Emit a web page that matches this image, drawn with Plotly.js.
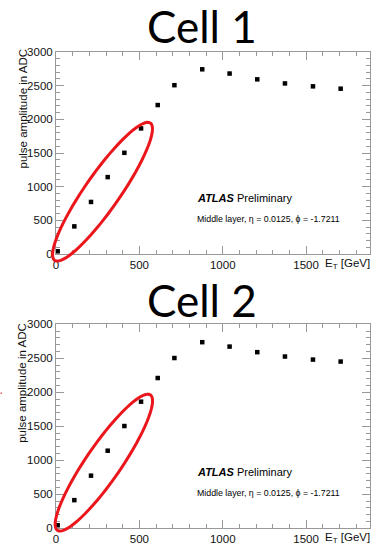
<!DOCTYPE html>
<html>
<head>
<meta charset="utf-8">
<script src="https://cdn.plot.ly/plotly-3.0.1.min.js"></script>
<style>html,body{margin:0;padding:0;background:#fff;}#chart{width:372px;height:556px;}</style>
</head>
<body>
<div id="chart"></div>
<script>
// ---- data ----
const panelTitles = ["Cell 1", "Cell 2"];
const cell1Et = [10, 110, 210, 310, 410, 510, 610, 710, 877, 1041, 1207, 1373, 1541, 1707];
const cell1Amp = [40, 410, 773, 1142, 1503, 1865, 2212, 2507, 2743, 2680, 2594, 2533, 2490, 2455];
const cell2Et = [10, 110, 210, 310, 410, 510, 610, 710, 877, 1041, 1207, 1373, 1541, 1707];
const cell2Amp = [45, 414, 774, 1141, 1504, 1862, 2210, 2504, 2737, 2672, 2590, 2526, 2481, 2452];
const xTickVals = [0, 500, 1000, 1500];
const yTickVals = [0, 500, 1000, 1500, 2000, 2500, 3000];
// ellipse highlighting the linear region: [x,y] of the two tips (data units)
const ellipse1Tips = [[-8, -95], [566, 1945]];
const ellipse2Tips = [[8, -30], [566, 1962]];

const W = 372, H = 556;
const xRange = [0, 1880], yRange = [0, 3000];
const xDom = [56 / W, 369.5 / W];
const yDom1 = [1 - 254 / H, 1 - 52 / H];
const yDom2 = [1 - 528.3 / H, 1 - 324.3 / H];

function toPaper(x, y, yDom) {
  const px = xDom[0] + (x - xRange[0]) / (xRange[1] - xRange[0]) * (xDom[1] - xDom[0]);
  const py = yDom[0] + (y - yRange[0]) / (yRange[1] - yRange[0]) * (yDom[1] - yDom[0]);
  return [px, py];
}
function ellipsePath(tips, yDom, halfMinorPx) {
  const a = toPaper(tips[0][0], tips[0][1], yDom), b = toPaper(tips[1][0], tips[1][1], yDom);
  const ax = a[0] * W, ay = a[1] * H, bx = b[0] * W, by = b[1] * H;
  const cx = (ax + bx) / 2, cy = (ay + by) / 2;
  const ux = (bx - ax) / 2, uy = (by - ay) / 2;
  const len = Math.hypot(ux, uy);
  const vx = -uy / len * halfMinorPx, vy = ux / len * halfMinorPx;
  let d = "";
  const n = 72;
  for (let i = 0; i <= n; i++) {
    const t = 2 * Math.PI * i / n;
    const X = (cx + ux * Math.cos(t) + vx * Math.sin(t)) / W;
    const Y = (cy + uy * Math.cos(t) + vy * Math.sin(t)) / H;
    d += (i === 0 ? "M" : "L") + X.toFixed(5) + "," + Y.toFixed(5);
  }
  return d + "Z";
}

const FONT = "Liberation Sans, Arial, Helvetica, sans-serif";
const frameColor = "#999999";
function xAxis(anchor) {
  return {
    domain: xDom, range: xRange, anchor: anchor,
    showgrid: false, zeroline: false, showline: true, linecolor: frameColor, linewidth: 1, mirror: "ticks",
    ticks: "inside", ticklen: 8, tickcolor: frameColor, tickwidth: 1,
    tickvals: xTickVals, ticktext: xTickVals.map(String),
    tickfont: {family: FONT, size: 11.5, color: "#111"},
    minor: {ticks: "inside", ticklen: 4, dtick: 100, tick0: 0, tickcolor: frameColor, showgrid: false},
    fixedrange: true
  };
}
function yAxis(anchor, dom) {
  return {
    domain: dom, range: yRange, anchor: anchor,
    showgrid: false, zeroline: false, showline: true, linecolor: frameColor, linewidth: 1, mirror: "ticks",
    ticks: "inside", ticklen: 8, tickcolor: frameColor, tickwidth: 1,
    tickvals: yTickVals, ticktext: yTickVals.map(String),
    tickfont: {family: FONT, size: 11.5, color: "#111"},
    minor: {ticks: "inside", ticklen: 4, dtick: 100, tick0: 0, tickcolor: frameColor, showgrid: false},
    fixedrange: true
  };
}

const markerStyle = {symbol: "square", size: 4.5, color: "#000"};
const traces = [
  {x: cell1Et, y: cell1Amp, xaxis: "x", yaxis: "y", type: "scatter", mode: "markers", marker: markerStyle, cliponaxis: false, hoverinfo: "x+y"},
  {x: cell2Et, y: cell2Amp, xaxis: "x2", yaxis: "y2", type: "scatter", mode: "markers", marker: markerStyle, cliponaxis: false, hoverinfo: "x+y"}
];

function panelAnnotations(dy, title) {
  const P = (px, py) => [px / W, 1 - (py + dy) / H];
  const t = P(202, 26), a = P(195, 197.5), m = P(195, 218.5), yt = P(22, 108.5), xt = P(371.5, 264);
  return [
    {xref: "paper", yref: "paper", x: t[0], y: t[1], text: title, showarrow: false, xanchor: "center", yanchor: "middle",
     font: {family: "Lato, Open Sans, sans-serif", size: 44, weight: 400, color: "#000"}},
    {xref: "paper", yref: "paper", x: a[0], y: a[1], text: "<b><i>ATLAS</i></b> Preliminary", showarrow: false, xanchor: "left", yanchor: "middle",
     font: {family: FONT, size: 11, color: "#000"}},
    {xref: "paper", yref: "paper", x: m[0], y: m[1], text: "Middle layer, η = 0.0125, ϕ = -1.7211", showarrow: false, xanchor: "left", yanchor: "middle",
     font: {family: FONT, size: 8.8, color: "#000"}},
    {xref: "paper", yref: "paper", x: yt[0], y: yt[1], text: "pulse amplitude in ADC", showarrow: false, textangle: -90, xanchor: "center", yanchor: "middle",
     font: {family: FONT, size: 11.5, color: "#111"}},
    {xref: "paper", yref: "paper", x: xt[0], y: xt[1], text: "E<sub>T</sub> [GeV]", showarrow: false, xanchor: "right", yanchor: "middle",
     font: {family: FONT, size: 11.5, color: "#111"}}
  ];
}

const redLine = {color: "rgb(235,22,28)", width: 3};
const layout = {
  width: W, height: H,
  margin: {l: 0, r: 0, t: 0, b: 0, pad: 0},
  paper_bgcolor: "#fff", plot_bgcolor: "#fff",
  showlegend: false,
  xaxis: xAxis("y"), yaxis: yAxis("x", yDom1),
  xaxis2: xAxis("y2"), yaxis2: yAxis("x2", yDom2),
  annotations: panelAnnotations(0, panelTitles[0]).concat(panelAnnotations(274.3, panelTitles[1])),
  shapes: [
    {type: "path", xref: "paper", yref: "paper", path: ellipsePath(ellipse1Tips, yDom1, 17.5), line: redLine, layer: "above"},
    {type: "path", xref: "paper", yref: "paper", path: ellipsePath(ellipse2Tips, yDom2, 17.5), line: redLine, layer: "above"},
    {type: "rect", xref: "paper", yref: "paper", x0: 0.5 / W, x1: 2 / W, y0: 1 - 394 / H, y1: 1 - 392.5 / H,
     line: {width: 0}, fillcolor: "rgba(235,22,28,0.7)"}
  ]
};

Plotly.newPlot("chart", traces, layout, {staticPlot: true, displayModeBar: false});
</script>
</body>
</html>
